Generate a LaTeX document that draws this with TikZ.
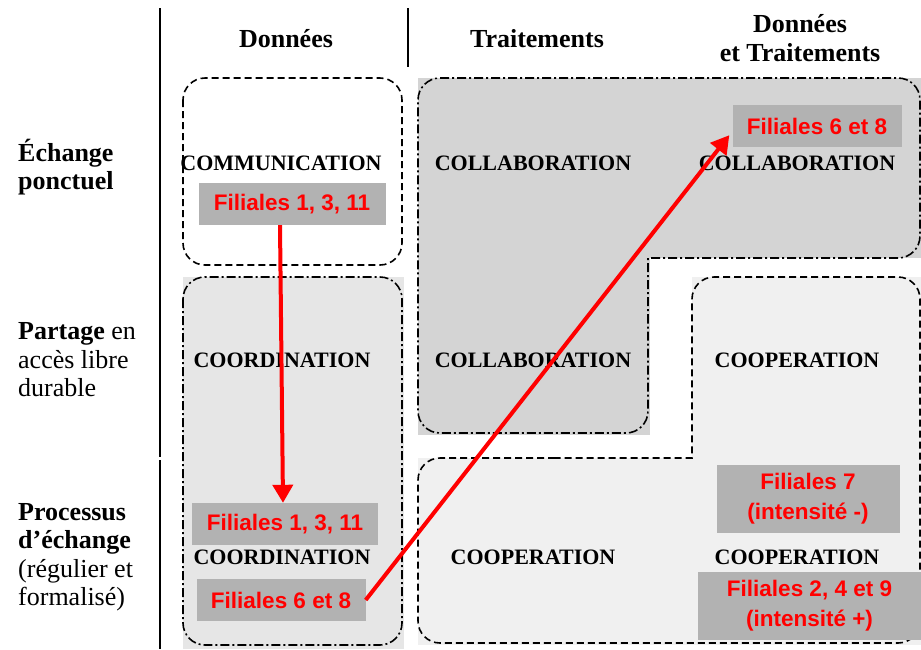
\documentclass[tikz,border=0pt]{standalone}
\usepackage{fontspec}
\setmainfont{Liberation Serif}
\newfontfamily\filfont{Liberation Sans}
\usetikzlibrary{positioning, arrows.meta}
\definecolor{boxgray}{RGB}{178,178,178}
\definecolor{collgray}{RGB}{212,212,212}
\definecolor{coordgray}{RGB}{230,230,230}
\definecolor{coopgray}{RGB}{240,240,240}
\definecolor{filred}{RGB}{255,0,0}
\tikzstyle{head} = [font=\fontsize{26}{29}\selectfont\bfseries, align=center]
\tikzstyle{rowlab} = [font=\fontsize{26}{28.5}\selectfont, align=left, anchor=west, inner sep=0]
\tikzstyle{mode} = [font=\fontsize{22}{24}\selectfont\bfseries]
\tikzstyle{fil} = [fill=boxgray, text=filred, font=\fontsize{22.5}{30}\selectfont\filfont\bfseries, align=center, inner sep=0]
\tikzstyle{dashbox} = [line width=1.6pt, dash pattern=on 7pt off 4pt]
\tikzstyle{dotbox} = [line width=1.6pt, dash pattern=on 9pt off 3pt on 2pt off 3pt]
\tikzstyle{line} = [draw=filred, line width=4pt, -{Triangle[width=20pt,length=18pt]}]

\begin{document}
\begin{tikzpicture}[x=1pt,y=-1pt]
\useasboundingbox (0,0) rectangle (921,649);
\fill[coordgray] (183,277) rectangle (404,649);
\fill[collgray] (418,78) rectangle (921,258);
\fill[collgray] (418,258) rectangle (650,435);
\fill[coopgray] (692,277) rectangle (921,458);
\fill[coopgray] (418,458) rectangle (921,645);
\draw[line width=1.5pt] (160,8) -- (160,457);
\draw[line width=1.5pt] (160,460) -- (160,649);
\draw[line width=1.5pt] (408,8) -- (408,67);
\draw[dashbox, rounded corners=22] (183,78) rectangle (402,265);
\draw[dotbox, rounded corners=22] (183,277) rectangle (402,645);
\draw[dotbox] (648,345) [sharp corners] -- (648,258) [rounded corners=22] -- (920,258) -- (920,78) -- (418,78) -- (418,433) -- (648,433) -- cycle;
\draw[dashbox] (555,458) [rounded corners=22] -- (418,458) -- (418,643) -- (920,643) -- (920,277) -- (692,277) [sharp corners] -- (692,458) -- cycle;
\node[head] (hdon) at (286,39) {Données};
\node[head] (htrt) at (537,39) {Traitements};
\node[head] (hdt) at (800,38) {Données\\et Traitements};
\node[rowlab] (rech) at (18,167) {\textbf{Échange}\\\textbf{ponctuel}};
\node[rowlab] (rpar) at (18,360) {\textbf{Partage} en\\accès libre\\durable};
\node[rowlab] (rpro) at (18,557) {\textbf{Processus}\\\textbf{d’échange}\\(régulier et\\formalisé)};
\node[mode] (comm) at (281,163) {COMMUNICATION};
\node[mode] (colla) at (533,163) {COLLABORATION};
\node[mode] (collb) at (797,163) {COLLABORATION};
\node[mode] (coora) at (282,360) {COORDINATION};
\node[mode] (collc) at (533,360) {COLLABORATION};
\node[mode] (coopa) at (797,360) {COOPERATION};
\node[mode] (coorb) at (282,557) {COORDINATION};
\node[mode] (coopb) at (533,557) {COOPERATION};
\node[mode] (coopc) at (797,557) {COOPERATION};
\node[fil, minimum width=187pt, minimum height=42pt] (fila) at (292,204) {Filiales 1, 3, 11};
\node[fil, minimum width=169pt, minimum height=42pt] (filb) at (817,126) {Filiales 6 et 8};
\node[fil, minimum width=186pt, minimum height=42pt] (filc) at (285,524) {Filiales 1, 3, 11};
\node[fil, minimum width=169pt, minimum height=42pt] (fild) at (281,600) {Filiales 6 et 8};
\node[fil, minimum width=183pt, minimum height=68pt] (file) at (808,499) {Filiales 7\\(intensité -)};
\node[fil, minimum width=223pt, minimum height=68pt] (filf) at (809.5,606) {Filiales 2, 4 et 9\\(intensité +)};
\draw[line] ([xshift=-12pt]fila.south) -- ([xshift=-2pt]filc.north);
\draw[line] (fild.east) -- ([shift={(-3pt,12pt)}]filb.south west);
\end{tikzpicture}
\end{document}
